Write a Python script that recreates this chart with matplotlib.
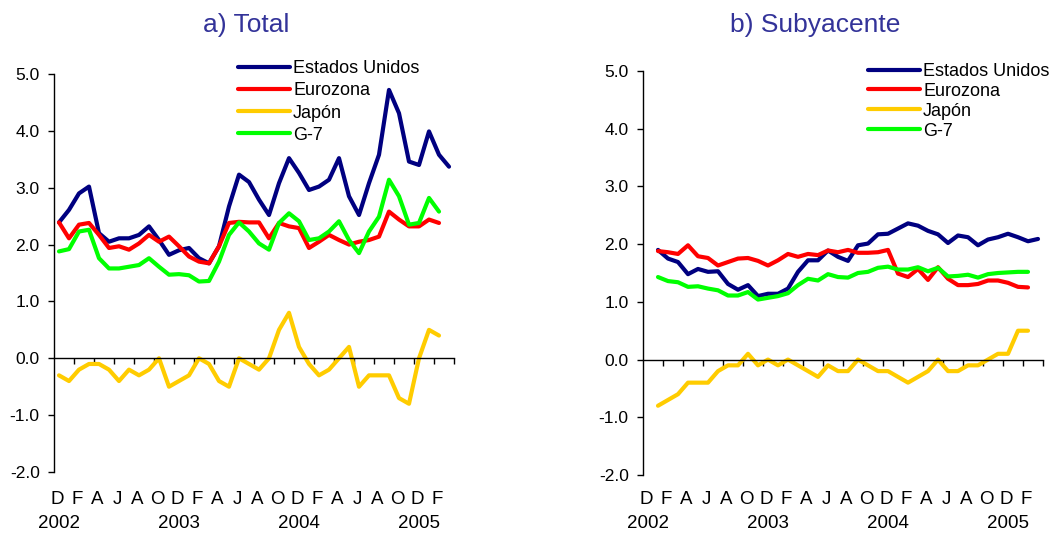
import matplotlib
matplotlib.use('Agg')
import matplotlib.pyplot as plt
import matplotlib.transforms as mtransforms
import numpy as np

plt.rcParams['font.family'] = ['Liberation Sans', 'DejaVu Sans']
plt.rcParams['axes.unicode_minus'] = False

# meses: D 2001 ... M 2005 (40 categorias)
meses = ['D', 'E', 'F', 'M', 'A', 'M', 'J', 'J', 'A', 'S', 'O', 'N'] * 3 + ['D', 'E', 'F', 'M']
anios = {0: '2002', 12: '2003', 24: '2004', 36: '2005'}

# a) Total
tot_eeuu = [2.39, 2.61, 2.9, 3.02, 2.2, 2.05, 2.11, 2.11, 2.17, 2.32,
            2.08, 1.82, 1.9, 1.94, 1.76, 1.67, 1.97, 2.67, 3.23, 3.1,
            2.79, 2.52, 3.08, 3.52, 3.26, 2.96, 3.02, 3.14, 3.52, 2.85,
            2.52, 3.08, 3.58, 4.72, 4.31, 3.46, 3.4, 3.99, 3.58, 3.37]
tot_euro = [2.39, 2.11, 2.35, 2.38, 2.17, 1.94, 1.97, 1.91, 2.02, 2.17,
            2.05, 2.14, 1.97, 1.79, 1.7, 1.67, 1.97, 2.38, 2.4, 2.39,
            2.39, 2.11, 2.38, 2.32, 2.29, 1.94, 2.05, 2.17, 2.08, 2.0,
            2.05, 2.08, 2.14, 2.58, 2.44, 2.32, 2.32, 2.44, 2.38]
tot_japon = [-0.3, -0.4, -0.2, -0.1, -0.1, -0.2, -0.4, -0.2, -0.3, -0.2,
             0.0, -0.5, -0.4, -0.3, 0.0, -0.1, -0.4, -0.5, 0.0, -0.1,
             -0.2, 0.0, 0.5, 0.8, 0.2, -0.1, -0.3, -0.2, 0.0, 0.2,
             -0.5, -0.3, -0.3, -0.3, -0.7, -0.8, 0.0, 0.5, 0.4]
tot_g7 = [1.88, 1.92, 2.23, 2.26, 1.76, 1.58, 1.58, 1.61, 1.64, 1.76,
          1.61, 1.47, 1.48, 1.46, 1.35, 1.36, 1.7, 2.17, 2.39, 2.23,
          2.02, 1.91, 2.38, 2.55, 2.41, 2.08, 2.11, 2.23, 2.41, 2.08,
          1.85, 2.23, 2.49, 3.14, 2.85, 2.35, 2.38, 2.82, 2.58]

# b) Subyacente (empieza un mes despues)
sub_eeuu = [1.9, 1.75, 1.69, 1.48, 1.57, 1.52, 1.53, 1.31, 1.21, 1.29,
            1.1, 1.14, 1.14, 1.23, 1.52, 1.72, 1.72, 1.89, 1.78, 1.71,
            1.98, 2.01, 2.17, 2.18, 2.27, 2.36, 2.32, 2.23, 2.17, 2.02,
            2.15, 2.12, 1.98, 2.08, 2.12, 2.18, 2.12, 2.05, 2.09]
sub_euro = [1.88, 1.86, 1.83, 1.98, 1.79, 1.76, 1.63, 1.69, 1.75, 1.76,
            1.71, 1.63, 1.72, 1.83, 1.78, 1.83, 1.81, 1.89, 1.86, 1.9,
            1.85, 1.85, 1.86, 1.9, 1.49, 1.43, 1.57, 1.38, 1.6, 1.4,
            1.29, 1.29, 1.31, 1.37, 1.37, 1.33, 1.26, 1.25]
sub_japon = [-0.8, -0.7, -0.6, -0.4, -0.4, -0.4, -0.2, -0.1, -0.1, 0.1,
             -0.1, 0.0, -0.1, 0.0, -0.1, -0.2, -0.3, -0.1, -0.2, -0.2,
             0.0, -0.1, -0.2, -0.2, -0.3, -0.4, -0.3, -0.2, 0.0, -0.2,
             -0.2, -0.1, -0.1, 0.0, 0.1, 0.1, 0.5, 0.5]
sub_g7 = [1.43, 1.36, 1.34, 1.26, 1.27, 1.23, 1.2, 1.11, 1.11, 1.17,
          1.04, 1.07, 1.1, 1.15, 1.29, 1.4, 1.37, 1.48, 1.43, 1.42,
          1.5, 1.52, 1.59, 1.61, 1.56, 1.56, 1.6, 1.53, 1.59, 1.44,
          1.45, 1.47, 1.42, 1.48, 1.5, 1.51, 1.52, 1.52]

nombres = ['Estados Unidos', 'Eurozona', 'Japón', 'G-7']
colores = ['#000080', '#FF0000', '#FFCC00', '#00FF00']

fig = plt.figure(figsize=(10.53, 5.33), dpi=100)
W, H = 1053, 533
ax1 = fig.add_axes([54 / W, (H - 472) / H, 400 / W, 398 / H])
ax2 = fig.add_axes([643 / W, (H - 475) / H, 400 / W, 404 / H])


def panel(ax, series, inicio, leg_xy, leg_sp):
    for s, nom, col in zip(series, nombres, colores):
        x = np.arange(len(s)) + inicio
        ax.plot(x, s, color=col, lw=3, label=nom,
                solid_joinstyle='round', solid_capstyle='round')
    ax.set_xlim(-0.5, len(meses) - 0.5)
    ax.set_ylim(-2, 5)
    ax.set_yticks(np.arange(-2, 6, 1))
    ax.set_yticklabels(['%.1f' % v for v in np.arange(-2, 6, 1)], fontsize=12.5)
    ax.spines['top'].set_visible(False)
    ax.spines['right'].set_visible(False)
    ax.spines['bottom'].set_position(('data', 0))
    ax.spines['left'].set_linewidth(1)
    ax.spines['bottom'].set_linewidth(1)
    ax.set_xticks(np.arange(1.5, len(meses), 2))
    ax.set_xticklabels([])
    ax.tick_params(axis='x', direction='out', length=4.5, width=1)
    ax.tick_params(axis='y', direction='out', length=4.3, width=1, pad=6)
    tr = mtransforms.blended_transform_factory(ax.transData, fig.transFigure)
    for i in range(0, len(meses), 2):
        ax.text(i - 0.2, 1 - 499 / H, meses[i], transform=tr, ha='center', va='center', fontsize=13.5)
    for i, a in anios.items():
        ax.text(i, 1 - 523 / H, a, transform=tr, ha='center', va='center', fontsize=13.5)
    ax.legend(loc='upper left', bbox_to_anchor=leg_xy, frameon=False, fontsize=13,
              handlelength=2.9, handletextpad=0.15, labelspacing=leg_sp, borderpad=0,
              borderaxespad=0)


panel(ax1, [tot_eeuu, tot_euro, tot_japon, tot_g7], 0, (0.46, 1.035), 0.29)
panel(ax2, [sub_eeuu, sub_euro, sub_japon, sub_g7], 1, (0.5625, 1.02), 0.16)

fig.text(246 / W, 1 - 25 / H, 'a) Total', ha='center', va='center', fontsize=19, color='#333399')
fig.text(815 / W, 1 - 25 / H, 'b) Subyacente', ha='center', va='center', fontsize=19, color='#333399')

fig.savefig('out.png', dpi=100)
